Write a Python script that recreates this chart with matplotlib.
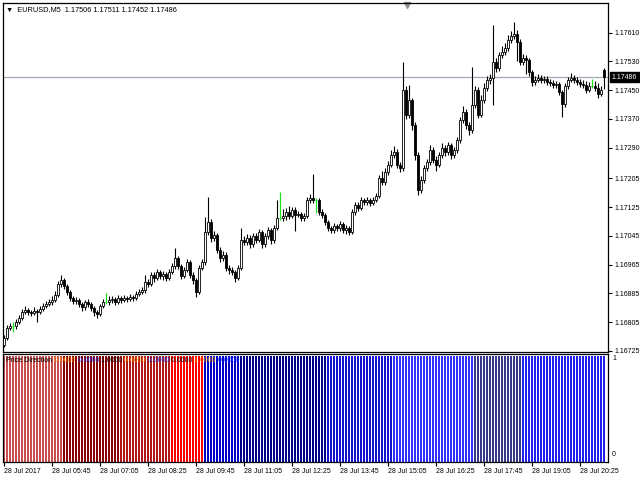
import matplotlib
matplotlib.use("Agg")
import matplotlib.pyplot as plt
from matplotlib.transforms import blended_transform_factory

plt.rcParams["font.family"] = ["Liberation Sans", "DejaVu Sans"]

# EURUSD M5, 28 Jul 2017, 201 bars starting 04:25
symbol = "EURUSD,M5"
header_ohlc = [1.17506, 1.17511, 1.17452, 1.17486]
first_open = 1.16742

closes = [
    1.16761, 1.16789, 1.16794, 1.16794, 1.16806, 1.16817, 1.16833, 1.16839, 1.16833, 1.16831,
    1.16836, 1.16833, 1.16842, 1.16850, 1.16856, 1.16861, 1.16867, 1.16881, 1.16911, 1.16922,
    1.16906, 1.16889, 1.16872, 1.16864, 1.16867, 1.16856, 1.16847, 1.16861, 1.16856, 1.16844,
    1.16833, 1.16828, 1.16850, 1.16861, 1.16861, 1.16867, 1.16869, 1.16861, 1.16872, 1.16867,
    1.16872, 1.16869, 1.16875, 1.16872, 1.16883, 1.16889, 1.16894, 1.16917, 1.16911, 1.16936,
    1.16928, 1.16944, 1.16933, 1.16939, 1.16928, 1.16944, 1.16961, 1.16983, 1.16961, 1.16933,
    1.16950, 1.16972, 1.16936, 1.16922, 1.16889, 1.16956, 1.16972, 1.17056, 1.17083, 1.17039,
    1.17047, 1.17006, 1.16983, 1.16992, 1.16956, 1.16950, 1.16944, 1.16928, 1.16956, 1.17033,
    1.17028, 1.17039, 1.17022, 1.17044, 1.17033, 1.17056, 1.17022, 1.17044, 1.17061, 1.17033,
    1.17067, 1.17094, 1.17094, 1.17100, 1.17111, 1.17100, 1.17117, 1.17103, 1.17106, 1.17094,
    1.17100, 1.17144, 1.17150, 1.17144, 1.17144, 1.17111, 1.17103, 1.17083, 1.17067, 1.17061,
    1.17072, 1.17067, 1.17078, 1.17061, 1.17067, 1.17056, 1.17111, 1.17131, 1.17122, 1.17144,
    1.17139, 1.17144, 1.17136, 1.17144, 1.17156, 1.17206, 1.17194, 1.17222, 1.17242, 1.17269,
    1.17278, 1.17242, 1.17233, 1.17450, 1.17381, 1.17422, 1.17353, 1.17269, 1.17172, 1.17200,
    1.17233, 1.17250, 1.17283, 1.17256, 1.17242, 1.17269, 1.17289, 1.17278, 1.17297, 1.17269,
    1.17283, 1.17311, 1.17367, 1.17389, 1.17353, 1.17339, 1.17408, 1.17450, 1.17381, 1.17422,
    1.17456, 1.17478, 1.17483, 1.17528, 1.17511, 1.17547, 1.17556, 1.17567, 1.17589, 1.17600,
    1.17606, 1.17583, 1.17528, 1.17539, 1.17533, 1.17500, 1.17472, 1.17478, 1.17483, 1.17478,
    1.17481, 1.17472, 1.17469, 1.17464, 1.17467, 1.17444, 1.17411, 1.17461, 1.17478, 1.17483,
    1.17478, 1.17472, 1.17467, 1.17464, 1.17450, 1.17461, 1.17461, 1.17456, 1.17439, 1.17450,
    1.17486,
]

highs = [
    1.16770, 1.16797, 1.16803, 1.16806, 1.16814, 1.16825, 1.16842, 1.16850, 1.16845, 1.16840,
    1.16846, 1.16842, 1.16850, 1.16858, 1.16864, 1.16869, 1.16878, 1.16892, 1.16920, 1.16936,
    1.16928, 1.16911, 1.16894, 1.16878, 1.16875, 1.16872, 1.16861, 1.16867, 1.16869, 1.16861,
    1.16850, 1.16839, 1.16856, 1.16869, 1.16886, 1.16878, 1.16878, 1.16875, 1.16881, 1.16878,
    1.16881, 1.16878, 1.16883, 1.16881, 1.16892, 1.16897, 1.16903, 1.16936, 1.16925, 1.16944,
    1.16944, 1.16953, 1.16950, 1.16947, 1.16944, 1.16953, 1.16969, 1.17011, 1.16989, 1.16967,
    1.16958, 1.16981, 1.16978, 1.16944, 1.16928, 1.16964, 1.16981, 1.17097, 1.17153, 1.17092,
    1.17058, 1.17053, 1.17014, 1.17003, 1.17000, 1.16964, 1.16958, 1.16950, 1.16964, 1.17067,
    1.17044, 1.17050, 1.17047, 1.17053, 1.17053, 1.17064, 1.17061, 1.17053, 1.17069, 1.17067,
    1.17075, 1.17144, 1.17167, 1.17119, 1.17122, 1.17128, 1.17125, 1.17125, 1.17114, 1.17111,
    1.17108, 1.17153, 1.17161, 1.17217, 1.17150, 1.17150, 1.17119, 1.17108, 1.17089, 1.17072,
    1.17081, 1.17078, 1.17086, 1.17083, 1.17075, 1.17072, 1.17119, 1.17139, 1.17139, 1.17153,
    1.17150, 1.17153, 1.17150, 1.17153, 1.17164, 1.17214, 1.17225, 1.17233, 1.17253, 1.17283,
    1.17294, 1.17286, 1.17250, 1.17528, 1.17461, 1.17464, 1.17428, 1.17361, 1.17278, 1.17211,
    1.17242, 1.17258, 1.17297, 1.17292, 1.17267, 1.17278, 1.17303, 1.17297, 1.17306, 1.17303,
    1.17292, 1.17319, 1.17375, 1.17406, 1.17397, 1.17361, 1.17514, 1.17461, 1.17458, 1.17436,
    1.17469, 1.17489, 1.17494, 1.17631, 1.17539, 1.17556, 1.17572, 1.17581, 1.17603, 1.17614,
    1.17639, 1.17617, 1.17592, 1.17550, 1.17547, 1.17539, 1.17506, 1.17489, 1.17494, 1.17492,
    1.17489, 1.17489, 1.17481, 1.17478, 1.17475, 1.17472, 1.17450, 1.17469, 1.17486, 1.17497,
    1.17492, 1.17486, 1.17481, 1.17478, 1.17475, 1.17472, 1.17481, 1.17475, 1.17469, 1.17461,
    1.17511,
]

lows = [
    1.16736, 1.16755, 1.16783, 1.16778, 1.16786, 1.16800, 1.16811, 1.16828, 1.16825, 1.16822,
    1.16826, 1.16805, 1.16828, 1.16836, 1.16844, 1.16850, 1.16853, 1.16861, 1.16875, 1.16903,
    1.16897, 1.16881, 1.16864, 1.16856, 1.16856, 1.16847, 1.16836, 1.16839, 1.16847, 1.16836,
    1.16822, 1.16817, 1.16822, 1.16844, 1.16856, 1.16853, 1.16858, 1.16853, 1.16856, 1.16858,
    1.16861, 1.16861, 1.16864, 1.16864, 1.16867, 1.16878, 1.16883, 1.16886, 1.16903, 1.16906,
    1.16917, 1.16922, 1.16925, 1.16922, 1.16919, 1.16922, 1.16939, 1.16953, 1.16953, 1.16925,
    1.16928, 1.16944, 1.16928, 1.16911, 1.16875, 1.16883, 1.16950, 1.16964, 1.17047, 1.17028,
    1.17031, 1.16997, 1.16972, 1.16975, 1.16947, 1.16939, 1.16936, 1.16917, 1.16922, 1.16950,
    1.17019, 1.17019, 1.17011, 1.17014, 1.17025, 1.17028, 1.17011, 1.17014, 1.17036, 1.17022,
    1.17025, 1.17061, 1.17089, 1.17086, 1.17089, 1.17092, 1.17094, 1.17058, 1.17097, 1.17086,
    1.17086, 1.17094, 1.17136, 1.17136, 1.17108, 1.17103, 1.17094, 1.17075, 1.17058, 1.17053,
    1.17053, 1.17058, 1.17058, 1.17053, 1.17050, 1.17047, 1.17050, 1.17103, 1.17114, 1.17117,
    1.17131, 1.17131, 1.17128, 1.17131, 1.17139, 1.17150, 1.17186, 1.17186, 1.17214, 1.17236,
    1.17261, 1.17233, 1.17222, 1.17225, 1.17369, 1.17372, 1.17339, 1.17256, 1.17158, 1.17164,
    1.17192, 1.17225, 1.17242, 1.17247, 1.17225, 1.17236, 1.17261, 1.17267, 1.17269, 1.17258,
    1.17261, 1.17275, 1.17303, 1.17358, 1.17342, 1.17325, 1.17331, 1.17400, 1.17372, 1.17375,
    1.17414, 1.17447, 1.17467, 1.17408, 1.17500, 1.17503, 1.17539, 1.17547, 1.17558, 1.17581,
    1.17592, 1.17531, 1.17519, 1.17519, 1.17494, 1.17489, 1.17461, 1.17464, 1.17472, 1.17469,
    1.17469, 1.17464, 1.17461, 1.17456, 1.17456, 1.17436, 1.17375, 1.17403, 1.17453, 1.17472,
    1.17469, 1.17464, 1.17458, 1.17456, 1.17442, 1.17444, 1.17456, 1.17447, 1.17428, 1.17433,
    1.17452,
]

opens = [first_open] + closes[:-1]
opens[-1] = header_ohlc[0]

price_ticks = [1.17610, 1.17530, 1.17450, 1.17370, 1.17290, 1.17205,
               1.17125, 1.17045, 1.16965, 1.16885, 1.16805, 1.16725]

time_labels = ["28 Jul 2017", "28 Jul 05:45", "28 Jul 07:05", "28 Jul 08:25",
               "28 Jul 09:45", "28 Jul 11:05", "28 Jul 12:25", "28 Jul 13:45",
               "28 Jul 15:05", "28 Jul 16:25", "28 Jul 17:45", "28 Jul 19:05",
               "28 Jul 20:25"]

# Price Direction histogram: (colour, number of bars), every bar at value 1
direction_runs = [("#c85050", 20), ("#8b0000", 19), ("#b01818", 17), ("#ff0000", 11),
                  ("#0000c8", 12), ("#00008b", 29), ("#1414d0", 22), ("#3030ff", 27),
                  ("#383888", 16), ("#2020ee", 28)]
direction_value = 1.0
direction_legend = ["0.0000", "0.0000", "1.0000", "0.0000", "0.0000", "0.0000", "1.0000", "0.0000"]

W, H = 640, 480
fig = plt.figure(figsize=(6.4, 4.8), dpi=100)
fig.patch.set_facecolor("white")

ax = fig.add_axes([3 / W, 1 - 352 / H, 605 / W, 349 / H])
axd = fig.add_axes([3 / W, 1 - 462 / H, 605 / W, 108 / H])

n = len(closes)
xs = list(range(n))
# 3 px per bar, bar edges on whole pixels
x0 = -1 / 3
x1 = x0 + 605 / 3

# candles
for i in xs:
    o, h, l, c = opens[i], highs[i], lows[i], closes[i]
    if o == c:
        ax.vlines(i, l, h, color="#22dd22", lw=0.9, zorder=3)
        ax.hlines(c, i - 0.35, i + 0.35, color="#22dd22", lw=0.9, zorder=3)
        continue
    ax.vlines(i, l, h, color="black", lw=0.8, zorder=2)
    fill = "white" if c > o else "black"
    ax.bar(i, abs(c - o), bottom=min(o, c), width=0.7, color=fill,
           edgecolor="black", linewidth=0.6, zorder=3)

ax.set_xlim(x0, x1)
ax.set_ylim(1.16722, 1.17692)
ax.axhline(header_ohlc[3], color="#a3a8b8", lw=0.9, zorder=1)

ax.set_xticks([])
ax.yaxis.tick_right()
ax.set_yticks(price_ticks)
ax.set_yticklabels([f"{v:.5f}" for v in price_ticks])
ax.tick_params(axis="y", direction="out", length=3, width=0.8, labelsize=5, pad=1.5)
for sp in ax.spines.values():
    sp.set_linewidth(0.9)

# current price tag
tr = blended_transform_factory(ax.transAxes, ax.transData)
ax.text(1.006, header_ohlc[3], f"{header_ohlc[3]:.5f}", transform=tr, fontsize=5,
        color="white", va="center", ha="left",
        bbox=dict(boxstyle="square,pad=0.25", facecolor="black", edgecolor="black"))

# chart shift marker
ax.plot([(407 - 3) / 605], [0.993], marker="v", color="#909090", ms=4,
        transform=ax.transAxes, clip_on=False)

# header
ohlc_txt = " ".join(f"{v:.5f}" for v in header_ohlc)
fig.text(6 / W, 1 - 10 / H, f"\u25bc  {symbol}  {ohlc_txt}", fontsize=5.3,
         va="center", ha="left")

# direction histogram
colors = []
for col, cnt in direction_runs:
    colors += [col] * cnt
axd.bar(xs, [direction_value] * n, width=2 / 3, color=colors, linewidth=0)
axd.set_xlim(x0, x1)
axd.set_ylim(0, 1.02)
axd.set_yticks([])
axd.set_xticks(range(0, n, 16))
axd.set_xticklabels(time_labels, ha="left")
axd.tick_params(axis="x", direction="out", length=3, width=0.8, labelsize=5, pad=1)
for sp in axd.spines.values():
    sp.set_linewidth(0.9)

fig.text(612 / W, 1 - 359 / H, "1", fontsize=5, va="center", ha="left")
fig.text(612 / W, 1 - 455 / H, "0", fontsize=5, va="center", ha="left")

# indicator label, values in buffer colours
fig.canvas.draw()
rend = fig.canvas.get_renderer()
xpos = 6
t = fig.text(xpos / W, 1 - 361 / H, "Price Direction ", fontsize=5, va="center", color="black")
xpos += t.get_window_extent(rend).width
val_colors = ["#ff8c00", "#1e3cff", "#000000", "#ff8c00", "#1e3cff", "#000000", "#ff8c00", "#1e3cff"]
for val, col in zip(direction_legend, val_colors):
    t = fig.text(xpos / W, 1 - 361 / H, val + " ", fontsize=5, va="center", color=col)
    xpos += t.get_window_extent(rend).width

fig.savefig("out.png", dpi=100)
